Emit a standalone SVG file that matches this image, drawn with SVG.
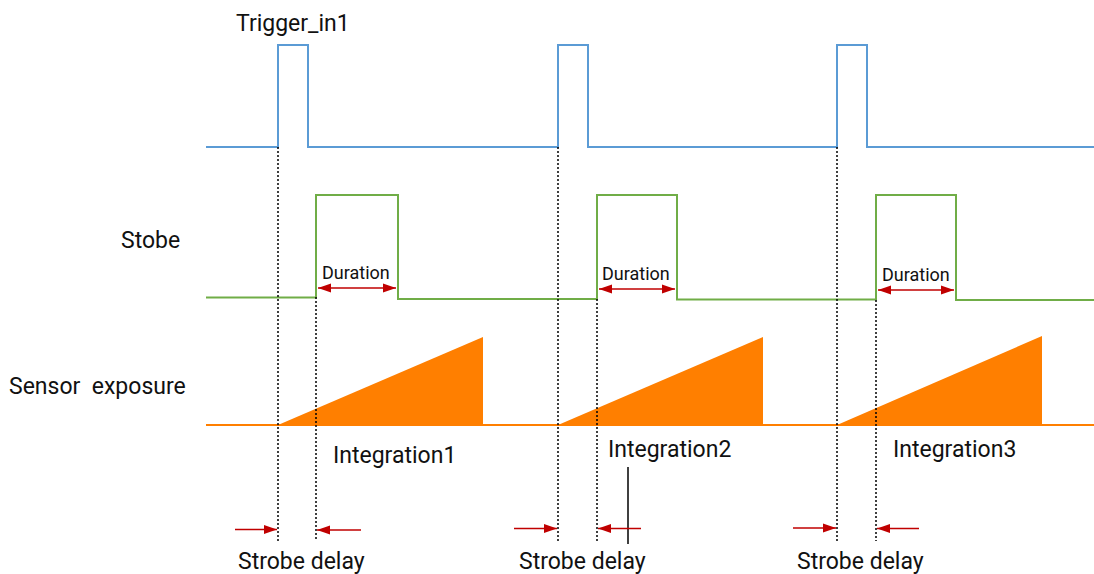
<svg xmlns="http://www.w3.org/2000/svg" width="1094" height="574" viewBox="0 0 1094 574">
<style>
text{font-family:Roboto,"Liberation Sans",sans-serif;fill:#111;}
.lbl{font-size:23px;}
.dur{font-size:18px;}
.trig{fill:none;stroke:#5B9BD5;stroke-width:2;}
.strb{fill:none;stroke:#70AD47;stroke-width:2;}
.sens{fill:none;stroke:#FF7F00;stroke-width:2;}
.ramp{fill:#FF7F00;stroke:none;}
.dot{stroke:#000;stroke-width:1.5;stroke-dasharray:2 2;fill:none;}
.arr{stroke:#C00000;stroke-width:1.5;fill:none;}
</style>
<defs>
<marker id="ah" markerUnits="userSpaceOnUse" markerWidth="14" markerHeight="10" refX="13" refY="5" orient="auto-start-reverse">
<path d="M0,0.5 L13,5 L0,9.5 Z" fill="#C00000"/>
</marker>
</defs>
<g id="labels">
<text class="lbl" x="236" y="31">Trigger_in1</text>
<text class="lbl" x="121" y="248">Stobe</text>
<text class="lbl" x="9" y="394" xml:space="preserve">Sensor  exposure</text>
</g>
<g id="trigger">
<path class="trig" d="M206,147 H278 V45 H308 V147 H558 V45 H588 V147 H837 V45 H867 V147 H1094"/>
</g>
<g id="strobe">
<path class="strb" d="M206,297.5 H316 V195 H398 V299 H597 V195 H677 V299.5 H876 V195 H956 V300 H1094"/>
</g>
<g id="sensor">
<path class="ramp" d="M278,425 L483,337 V425 Z"/>
<path class="ramp" d="M558,425 L763,337 V425 Z"/>
<path class="ramp" d="M837,425 L1042,336 V425 Z"/>
<path class="sens" d="M206,425 H1094"/>
</g>
<g id="guides">
<path class="dot" d="M278,147 V541 M316,297 V541 M558,147 V541 M597,299 V541 M837,147 V541 M876,300 V541"/>
<path d="M628,467 V544" stroke="#000" stroke-width="1.5"/>
</g>
<g id="connectors">
<path class="arr" d="M318,288 H396" marker-start="url(#ah)" marker-end="url(#ah)"/>
<path class="arr" d="M599,289 H675" marker-start="url(#ah)" marker-end="url(#ah)"/>
<path class="arr" d="M878,290 H954" marker-start="url(#ah)" marker-end="url(#ah)"/>
<path class="arr" d="M235,529.5 H277" marker-end="url(#ah)"/>
<path class="arr" d="M361,530 H317" marker-end="url(#ah)"/>
<path class="arr" d="M514,528.5 H557" marker-end="url(#ah)"/>
<path class="arr" d="M641,528.5 H598" marker-end="url(#ah)"/>
<path class="arr" d="M793,528 H836" marker-end="url(#ah)"/>
<path class="arr" d="M919,528.5 H877" marker-end="url(#ah)"/>
</g>
<g id="texts">
<text class="dur" x="322" y="279">Duration</text>
<text class="dur" x="602" y="280">Duration</text>
<text class="dur" x="882" y="281">Duration</text>
<text class="lbl" x="333" y="463">Integration1</text>
<text class="lbl" x="608" y="457">Integration2</text>
<text class="lbl" x="893" y="457">Integration3</text>
<text class="lbl" x="238" y="569">Strobe delay</text>
<text class="lbl" x="519" y="569">Strobe delay</text>
<text class="lbl" x="797" y="569">Strobe delay</text>
</g>
</svg>
